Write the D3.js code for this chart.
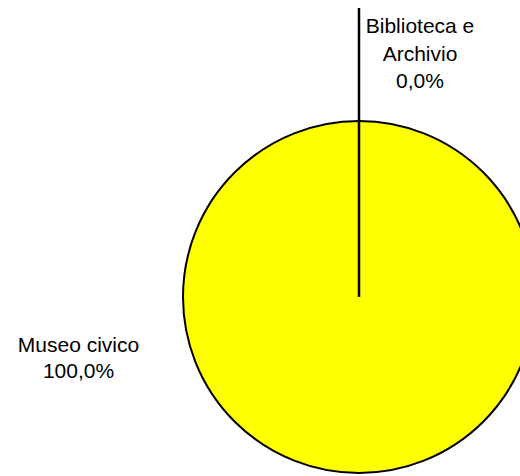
<!DOCTYPE html>
<html>
<head>
<meta charset="utf-8">
<script src="https://cdn.jsdelivr.net/npm/d3@7"></script>
<style>
  html, body { margin: 0; padding: 0; background: #fff; }
  svg { display: block; }
  text { font-family: "Liberation Sans", Arial, Helvetica, sans-serif; font-size: 21px; fill: #000; }
</style>
</head>
<body>
<script>
const categories = ["Museo civico", "Biblioteca e Archivio"];
const values = [100, 0];
const labelLines = [["Museo civico", "100,0%"], ["Biblioteca e", "Archivio", "0,0%"]];
const colors = ["#FFFF00", "#FFFF00"];

const W = 520, H = 476;
const cx = 359, cy = 297, R = 176;

const svg = d3.select("body").append("svg").attr("width", W).attr("height", H);
const g = svg.append("g").attr("transform", `translate(${cx},${cy})`);

const data = categories.map((c, i) => ({ cat: c, value: values[i], lines: labelLines[i], color: colors[i] }));
const pie = d3.pie().value(d => d.value).sort(null).startAngle(0).endAngle(2 * Math.PI);
const arcs = pie(data);
const arc = d3.arc().innerRadius(0).outerRadius(R);

g.selectAll("path.slice").data(arcs).join("path")
  .attr("class", "slice")
  .attr("d", arc)
  .attr("fill", d => d.data.color)
  .attr("stroke", "#000")
  .attr("stroke-width", 2);

// zero slice: radius line + leader
arcs.filter(d => d.data.value === 0).forEach(d => {
  const a = d.startAngle;
  const ext = 289;
  g.append("line")
    .attr("x1", 0).attr("y1", 0)
    .attr("x2", Math.sin(a) * ext).attr("y2", -Math.cos(a) * ext)
    .attr("stroke", "#000").attr("stroke-width", 2.5);
});

// labels
const labelPos = [[78.5 - cx, 352 - cy, 26], [420 - cx, 33 - cy, 27.5]];
arcs.forEach((d, i) => {
  const [x, y, lh] = labelPos[i];
  const t = g.append("text").attr("text-anchor", "middle");
  d.data.lines.forEach((ln, j) => {
    t.append("tspan").attr("x", x).attr("y", y + j * lh).text(ln);
  });
});
</script>
</body>
</html>
